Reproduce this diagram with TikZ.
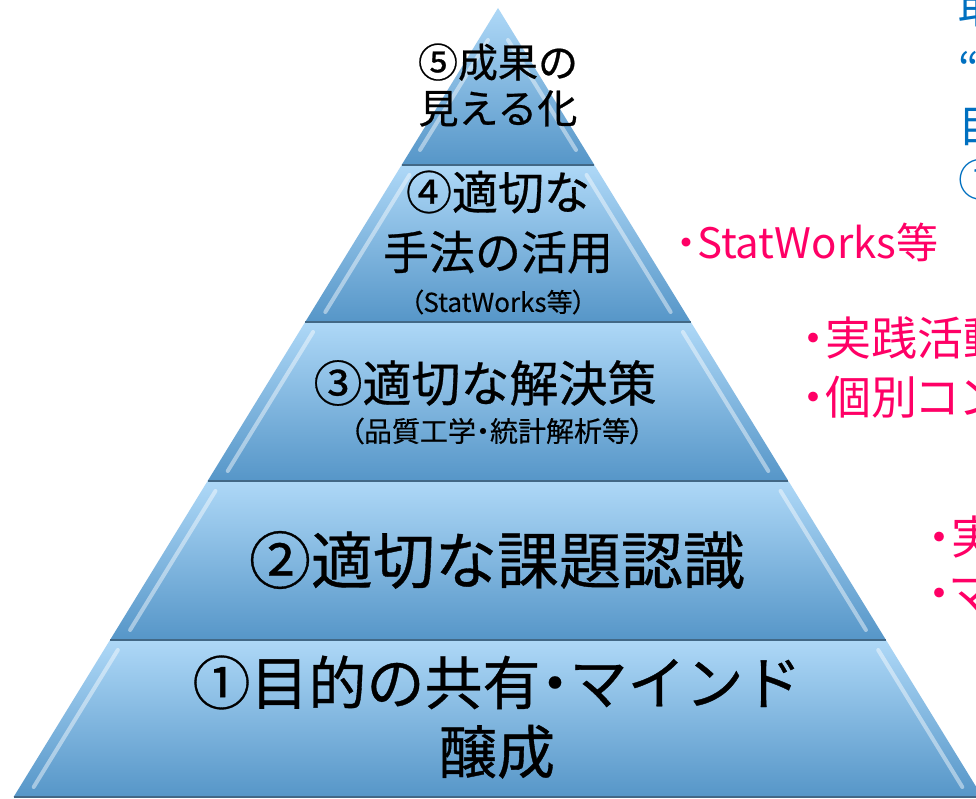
\documentclass[tikz,border=0pt]{standalone}
\usepackage{fontspec}
\setmainfont{Noto Sans CJK JP}
\newfontfamily\jpp[RawFeature=+palt]{Noto Sans CJK JP}
\newfontfamily\jpb[FakeBold=0.6]{Noto Sans CJK JP}
\newfontfamily\jpbp[FakeBold=0.4,RawFeature=+palt]{Noto Sans CJK JP}
\definecolor{lvtop}{RGB}{174,216,247}
\definecolor{lvbot}{RGB}{86,150,200}
\definecolor{lvline}{RGB}{66,104,134}
\definecolor{pinkT}{RGB}{255,0,102}
\definecolor{blueT}{RGB}{0,112,192}
\tikzset{
  level/.style={top color=lvtop, bottom color=lvbot, shading angle=0},
  sepline/.style={draw=lvline, line width=2.5pt},
  bevel/.style={draw=white, opacity=0.45, line width=4pt, line cap=round},
  lbl/.style={inner sep=0pt, align=center, text=black},
  pinktxt/.style={inner sep=0pt, anchor=west, text=pinkT},
  bluetxt/.style={inner sep=0pt, anchor=west, text=blueT}
}
\begin{document}
\begin{tikzpicture}[x=1pt,y=-1pt]
\useasboundingbox (0,0) rectangle (976,799);
\clip (0,0) rectangle (976,799);
\fill[white] (0,0) rectangle (976,799);
% levels (top to bottom)
\shade[level] (498,8) -- (594.4,165) -- (401.6,165) -- cycle;
\shade[level] (401.6,165) -- (594.4,165) -- (690.8,322) -- (305.2,322) -- cycle;
\shade[level] (305.2,322) -- (690.8,322) -- (788.4,481) -- (207.6,481) -- cycle;
\shade[level] (207.6,481) -- (788.4,481) -- (886,640) -- (110,640) -- cycle;
\shade[level] (110,640) -- (886,640) -- (982.4,797) -- (13.6,797) -- cycle;
% bevel highlights
\foreach \yt/\yb in {175/312,332/471,491/630,650/787}{
  \pgfmathsetmacro\lt{498-0.614*(\yt-8)+14}
  \pgfmathsetmacro\lb{498-0.614*(\yb-8)+14}
  \pgfmathsetmacro\rt{498+0.614*(\yt-8)-14}
  \pgfmathsetmacro\rb{498+0.614*(\yb-8)-14}
  \draw[bevel] (\lt,\yt) -- (\lb,\yb);
  \draw[bevel] (\rt,\yt) -- (\rb,\yb);
}
\draw[bevel] (488,40) -- (420,150);
\draw[bevel] (508,40) -- (576,150);
% separator lines
\draw[sepline] (401.6,165) -- (594.4,165);
\draw[sepline] (305.2,322) -- (690.8,322);
\draw[sepline] (207.6,481) -- (788.4,481);
\draw[sepline] (110,640) -- (886,640);
\draw[sepline] (13.6,797) -- (982.4,797);
% labels
\node[lbl, font=\jpb\fontsize{40}{46}\selectfont] (l5) at (498,85) {⑤成果の\\見える化};
\node[lbl, font=\jpb\fontsize{46}{60}\selectfont] (l4) at (498,222) {④適切な\\手法の活用};
\node[lbl, font=\jpbp\fontsize{26}{30}\selectfont] (l4s) at (498,302) {（StatWorks等）};
\node[lbl, font=\jpb\fontsize{49}{56}\selectfont] (l3) at (485,383) {③適切な解決策};
\node[lbl, font=\jpbp\fontsize{28}{32}\selectfont] (l3s) at (497,431) {（品質工学・統計解析等）};
\node[lbl, font=\jpb\fontsize{62}{66}\selectfont] (l2) at (497,560) {②適切な課題認識};
\node[lbl, font=\jpb\fontsize{58}{69}\selectfont] (l1) at (497,717) {①目的の共有{\jpbp ・}マインド\\醸成};
% right-hand texts (cut at the edge, as in the reference)
\node[pinktxt, font=\jpp\fontsize{42}{46}\selectfont] (p1) at (676,242) {・StatWorks等};
\node[pinktxt, font=\jpp\fontsize{46}{50}\selectfont] (p2) at (802,338) {・実践活動};
\node[pinktxt, font=\jpp\fontsize{46}{50}\selectfont] (p3) at (802,397) {・個別コン};
\node[pinktxt, font=\jpp\fontsize{46}{50}\selectfont] (p4) at (928,537) {・実};
\node[pinktxt, font=\jpp\fontsize{46}{50}\selectfont] (p5) at (928,596) {・マ};
\node[bluetxt, font=\fontsize{44}{48}\selectfont] (b1) at (958,8) {取};
\node[bluetxt, font=\fontsize{44}{48}\selectfont] (b2) at (958,68) {“};
\node[bluetxt, font=\fontsize{44}{48}\selectfont] (b3) at (958,127) {目};
\node[bluetxt, font=\fontsize{44}{48}\selectfont] (b4) at (958,180) {①};
\end{tikzpicture}
\end{document}
